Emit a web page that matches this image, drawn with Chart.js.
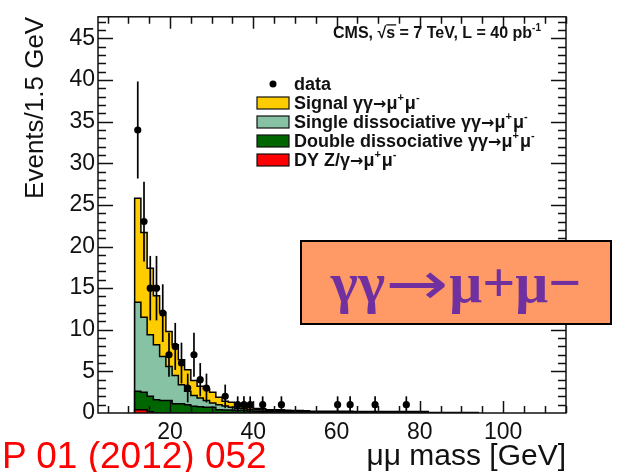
<!DOCTYPE html>
<html lang="en">
<head>
  <meta charset="UTF-8">
  <title>γγ→μ+μ− mass spectrum</title>
  <script src="https://cdn.jsdelivr.net/npm/chart.js"></script>
  <style>
    * {
      margin: 0;
      padding: 0;
      box-sizing: border-box;
    }

    body {
      width: 628px;
      height: 472px;
      background: #fff;
      position: relative;
      overflow: hidden;
      font-family: 'Liberation Sans', Arial, sans-serif;
    }

    #massChart {
      position: absolute;
      left: 0;
      top: 0;
    }

    /* Orange call-out box over the plot */
    .callout {
      position: absolute;
      left: 300px;
      top: 240px;
      width: 312px;
      height: 85px;
      background: #ff9966;
      border: 2px solid #000;
      display: flex;
      align-items: center;
      justify-content: center;
      color: #7030a0;
      font: bold 58px 'Liberation Serif', 'DejaVu Serif', serif;
      white-space: nowrap;
    }

    .callout .arrow {
      display: inline-block;
      font: 60px 'DejaVu Sans', sans-serif;
      transform: scaleX(1.25);
      margin: 0 7px;
    }

    /* Journal reference, bottom left */
    .journal {
      position: absolute;
      left: 2px;
      top: 436px;
      color: #ff0000;
      font-size: 37px;
      line-height: 40px;
      white-space: nowrap;
    }
  </style>
</head>
<body>
  <canvas id="massChart" width="628" height="472"></canvas>
  <div class="callout">γγ<span class="arrow">→</span>μ+μ−</div>
  <div class="journal">P 01 (2012) 052</div>

  <script>
    // Binning of the mu-mu invariant mass (GeV)
    const binLow = 11.5;
    const binWidth = 1.5;

    // Observed events: bin centres and counts (empty bins left out)
    const dataMass = [12.25, 13.75, 15.25, 16.75, 18.25, 19.75, 21.25, 22.75, 24.25, 25.75,
                      27.25, 28.75, 33.25, 36.25, 37.75, 39.25, 42.25, 46.75, 60.25, 63.25,
                      69.25, 76.75];
    const dataEvents = [34, 23, 15, 15, 12, 7, 8, 6, 3, 7,
                        4, 3, 2, 1, 1, 1, 1, 1, 1, 1,
                        1, 1];

    // Simulated contributions per 1.5 GeV bin, starting at 11.5 GeV
    const dyEvents = [0.4, 0.4, 0.15];
    const doubleEvents = [2.2, 2.1, 1.85, 1.6, 1.5, 1.5, 1.1, 1.1, 1.0, 0.8,
                          0.75, 0.7, 0.7, 0.4, 0.35, 0.35, 0.3, 0.3, 0.25, 0.2,
                          0.15, 0.15, 0.15, 0.15, 0.15, 0.15, 0.15, 0.15, 0.1, 0.1,
                          0.1, 0.1, 0.1, 0.1, 0.1, 0.06, 0.06, 0.06, 0.06, 0.06,
                          0.06, 0.06, 0.06, 0.06, 0.06, 0.06, 0.06, 0.02, 0.02, 0.02,
                          0.02, 0.02, 0.02, 0.02, 0.02];
    const singleEvents = [10.7, 9.0, 7.4, 6.6, 5.3, 4.1, 3.4, 2.3, 1.6, 1.3,
                          1.05, 0.8, 0.5, 0.6, 0.5, 0.35, 0.25, 0.2, 0.2, 0.2,
                          0.2, 0.17, 0.15, 0.13, 0.1, 0.07, 0.05, 0.03, 0.05, 0.05,
                          0.05, 0.05, 0.05, 0.05, 0.05, 0.04, 0.04, 0.04, 0.04, 0.04,
                          0.04, 0.04, 0.04, 0.04, 0.04, 0.04, 0.04, 0.02, 0.02, 0.02,
                          0.02, 0.02, 0.02, 0.02, 0.02];
    const signalEvents = [12.5, 10.2, 8.0, 5.9, 5.3, 4.2, 3.7, 3.0, 2.6, 1.8,
                          1.4, 1.4, 1.3, 0.9, 0.55, 0.6, 0.25, 0.25, 0.25, 0.15,
                          0.15, 0.08, 0.1, 0.1, 0.07, 0.08, 0.1, 0.1, 0.07, 0.07,
                          0.07, 0.07, 0.07, 0.07, 0.07, 0.08, 0.08, 0.08, 0.08, 0.08,
                          0.08, 0.08, 0.08, 0.08, 0.08, 0.08, 0.08, 0.03, 0.03, 0.03,
                          0.03, 0.03, 0.03, 0.03, 0.03];

    // Axis ticks
    const massTicks = [20, 40, 60, 80, 100];
    const eventTicks = [0, 5, 10, 15, 20, 25, 30, 35, 40, 45];

    // Legend
    const legendLabels = ['data', 'Signal γγ→μ^+μ^-', 'Single dissociative γγ→μ^+μ^-',
                          'Double dissociative γγ→μ^+μ^-', 'DY Z/γ→μ^+μ^-'];
    const legendColors = [null, '#ffcc00', '#86c2a3', '#006600', '#ff0000'];
    const headerText = 'CMS, √~s = 7 TeV, L = 40 pb^{-1}';

    const FONT = "'Liberation Sans', Arial, Helvetica, sans-serif";
    Chart.defaults.font.family = FONT;
    Chart.defaults.color = '#111';

    const nBins = signalEvents.length;

    // running sum of the stacked layers
    function stack(...layers) {
      const out = [];
      for (let i = 0; i < nBins; i++) {
        out.push(layers.reduce((s, l) => s + (l[i] || 0), 0));
      }
      return out;
    }

    // outline of a histogram as step points (closed down to zero at both ends)
    function stepPoints(values) {
      const pts = [{ x: binLow, y: 0 }];
      values.forEach((v, i) => pts.push({ x: binLow + i * binWidth, y: v }));
      const end = binLow + values.length * binWidth;
      pts.push({ x: end, y: values[values.length - 1] }, { x: end, y: 0 });
      return pts;
    }

    const layers = [
      stack(dyEvents),
      stack(dyEvents, doubleEvents),
      stack(dyEvents, doubleEvents, singleEvents),
      stack(dyEvents, doubleEvents, singleEvents, signalEvents)
    ];
    const layerColors = ['#ff0000', '#006600', '#86c2a3', '#ffcc00'];

    // 'before' in Chart.js = go across first, then up/down to the next point
    const histDatasets = layers.map((vals, i) => ({
      data: stepPoints(vals),
      stepped: 'before',
      borderColor: '#000',
      borderWidth: 1.5,
      backgroundColor: layerColors[i],
      fill: i === 0 ? 'origin' : '-1',
      pointRadius: 0,
      order: 1
    }));

    const dataset = {
      data: dataMass.map((m, i) => ({ x: m, y: dataEvents[i] })),
      showLine: false,
      pointRadius: 3.6,
      pointBackgroundColor: '#000',
      pointBorderWidth: 0,
      order: 0
    };

    // splits 'a^+b^{-1}~s→' into plain, superscript, overlined and arrow pieces
    function richParts(str) {
      return str.split(/(\^\{[^}]*\}|\^.|~.|→)/).filter(Boolean).map(p => {
        if (p.startsWith('^{')) return { t: p.slice(2, -1), sup: true };
        if (p[0] === '^') return { t: p.slice(1), sup: true };
        if (p[0] === '~') return { t: p.slice(1), over: true };
        if (p === '→') return { t: p, arrow: true };
        return { t: p };
      });
    }

    function drawRich(ctx, str, x, y, size) {
      let cx = x;
      richParts(str).forEach(p => {
        let dy = 0;
        if (p.sup) {
          ctx.font = `bold ${Math.round(size * 0.62)}px ${FONT}`;
          dy = -size * 0.42;
        } else if (p.arrow) {
          ctx.font = `bold ${Math.round(size * 0.9)}px 'DejaVu Sans', sans-serif`;
          dy = -size * 0.02;
        } else {
          ctx.font = `bold ${size}px ${FONT}`;
        }
        ctx.fillText(p.t, cx, y + dy);
        const w = ctx.measureText(p.t).width;
        if (p.over) ctx.fillRect(cx, y - size * 0.86, w + 1, 1.3);
        cx += w + (p.sup ? 1 : 0);
      });
    }

    // Poisson error bars on the data points
    const errorBars = {
      id: 'errorBars',
      beforeDatasetDraw(chart, args) {
        if (args.index !== histDatasets.length) return;
        const { ctx, scales: { x, y } } = chart;
        ctx.save();
        ctx.strokeStyle = '#000';
        ctx.lineWidth = 1.7;
        dataMass.forEach((m, i) => {
          const n = dataEvents[i];
          const err = Math.sqrt(n);
          const px = x.getPixelForValue(m);
          ctx.beginPath();
          ctx.moveTo(px, y.getPixelForValue(Math.max(0, n - err)));
          ctx.lineTo(px, y.getPixelForValue(n + err));
          ctx.stroke();
        });
        ctx.restore();
      }
    };

    // ROOT-like frame with inward ticks on all four sides
    const frame = {
      id: 'frame',
      afterDatasetsDraw(chart) {
        const { ctx, chartArea: a, scales: { x, y } } = chart;
        ctx.save();
        ctx.strokeStyle = '#111';
        ctx.lineWidth = 1.5;
        ctx.strokeRect(a.left, a.top, a.right - a.left, a.bottom - a.top);
        ctx.beginPath();
        for (let m = 5; m <= x.max; m += 5) {
          if (m < x.min) continue;
          const px = Math.round(x.getPixelForValue(m)) + 0.5;
          const len = m % 20 === 0 ? 12 : 7;
          ctx.moveTo(px, a.bottom); ctx.lineTo(px, a.bottom - len);
          ctx.moveTo(px, a.top); ctx.lineTo(px, a.top + len);
        }
        for (let v = 1; v <= y.max; v += 1) {
          const py = Math.round(y.getPixelForValue(v)) + 0.5;
          const len = v % 5 === 0 ? 15 : 8;
          ctx.moveTo(a.left, py); ctx.lineTo(a.left + len, py);
          ctx.moveTo(a.right, py); ctx.lineTo(a.right - len, py);
        }
        ctx.stroke();
        ctx.restore();
      },
      afterDraw(chart) {
        const { ctx } = chart;
        ctx.save();
        ctx.fillStyle = '#111';
        ctx.textBaseline = 'alphabetic';
        drawRich(ctx, headerText, 333, 38, 16);

        // legend
        legendLabels.forEach((label, i) => {
          const cy = 84 + i * 19;
          if (legendColors[i]) {
            ctx.fillStyle = legendColors[i];
            ctx.fillRect(257, cy - 6, 32, 12);
            ctx.strokeStyle = '#111';
            ctx.lineWidth = 1.2;
            ctx.strokeRect(257, cy - 6, 32, 12);
          } else {
            ctx.fillStyle = '#000';
            ctx.beginPath();
            ctx.arc(273, cy, 3.5, 0, Math.PI * 2);
            ctx.fill();
          }
          ctx.fillStyle = '#111';
          drawRich(ctx, label, 294, cy + 6, 18);
        });
        ctx.restore();
      }
    };

    new Chart(document.getElementById('massChart'), {
      type: 'line',
      data: { datasets: [...histDatasets, dataset] },
      options: {
        responsive: false,
        animation: false,
        devicePixelRatio: 1,
        layout: { padding: { top: 8, right: 62, left: 0, bottom: 0 } },
        plugins: {
          legend: { display: false },
          tooltip: { enabled: false }
        },
        scales: {
          x: {
            type: 'linear',
            min: 2.7,
            max: 115.1,
            grid: { display: false, drawTicks: false },
            border: { display: false },
            afterBuildTicks: s => { s.ticks = massTicks.map(v => ({ value: v })); },
            afterFit: s => { s.height = 59; },
            ticks: { font: { size: 23 }, color: '#111', padding: 6, maxRotation: 0 },
            title: {
              display: true,
              text: 'μμ mass [GeV]',
              align: 'end',
              color: '#111',
              font: { size: 30, lineHeight: 1 },
              padding: { top: 0, bottom: 0 }
            }
          },
          y: {
            type: 'linear',
            min: 0,
            max: 47.6,
            grid: { display: false, drawTicks: false },
            border: { display: false },
            afterBuildTicks: s => { s.ticks = eventTicks.map(v => ({ value: v })); },
            afterFit: s => { s.width = 98; },
            ticks: { font: { size: 23 }, color: '#111', padding: 3 },
            title: {
              display: true,
              text: 'Events/1.5 GeV',
              align: 'end',
              color: '#111',
              font: { size: 26 },
              padding: { top: 20, bottom: 0 }
            }
          }
        }
      },
      plugins: [errorBars, frame]
    });
  </script>
</body>
</html>
